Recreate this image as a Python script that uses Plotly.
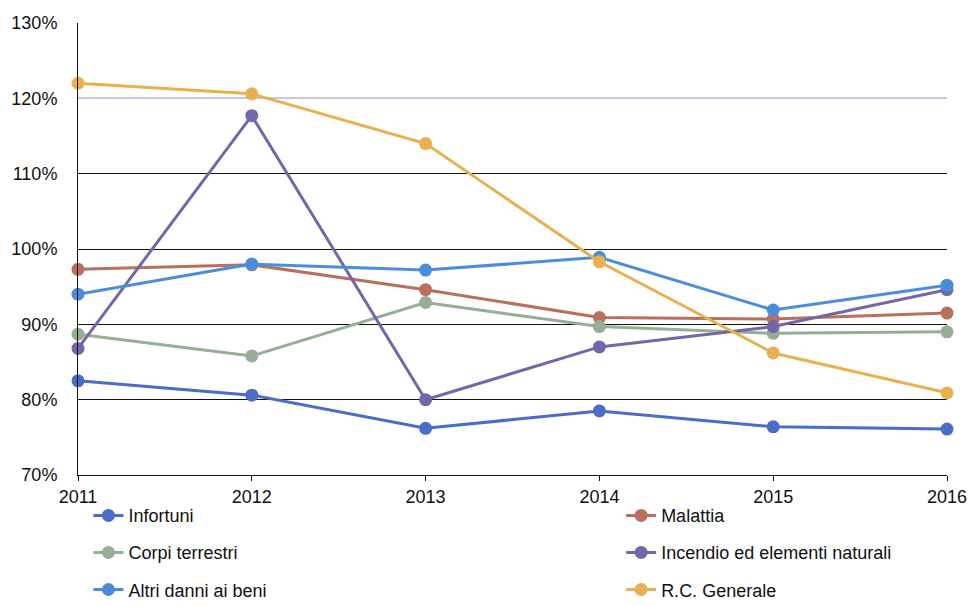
import plotly.graph_objects as go

years = [2011, 2012, 2013, 2014, 2015, 2016]

series_names = [
    "Infortuni",
    "Malattia",
    "Corpi terrestri",
    "Incendio ed elementi naturali",
    "Altri danni ai beni",
    "R.C. Generale",
]

infortuni = [82.5, 80.6, 76.2, 78.5, 76.4, 76.1]
malattia = [97.3, 97.9, 94.6, 90.9, 90.7, 91.5]
corpi_terrestri = [88.7, 85.8, 92.9, 89.7, 88.8, 89.0]
incendio = [86.8, 117.7, 80.0, 87.0, 89.7, 94.6]
altri_danni = [94.0, 98.0, 97.2, 98.9, 91.9, 95.2]
rc_generale = [122.0, 120.6, 114.0, 98.3, 86.2, 80.9]

y_ticks = [70, 80, 90, 100, 110, 120, 130]
y_tick_labels = ["70%", "80%", "90%", "100%", "110%", "120%", "130%"]
dark_grid_ticks = [80, 90, 100, 110, 130]
pale_grid_ticks = [120]

values = [infortuni, malattia, corpi_terrestri, incendio, altri_danni, rc_generale]
colors = ["#4a6dc8", "#b8705d", "#97ad97", "#7466a8", "#4a8edb", "#e9b04f"]

# legend slots: two columns, three rows
legend_x = [0.012, 0.625]
legend_y = [-0.09, -0.172, -0.254]

fig = go.Figure()
for i, (name, vals, col) in enumerate(zip(series_names, values, colors)):
    lg = "legend" if i == 0 else f"legend{i + 1}"
    fig.add_trace(go.Scatter(
        x=years, y=vals, name=name, mode="lines+markers",
        line=dict(color=col, width=3),
        marker=dict(color=col, size=13),
        cliponaxis=False,
        legend=lg,
    ))

legend_layout = {}
for i in range(6):
    key = "legend" if i == 0 else f"legend{i + 1}"
    legend_layout[key] = dict(
        x=legend_x[i % 2], y=legend_y[i // 2],
        xanchor="left", yanchor="middle",
        bgcolor="rgba(0,0,0,0)",
        font=dict(family="Liberation Sans", size=18, color="#111"),
    )

fig.update_layout(
    width=971, height=606,
    margin=dict(l=78, r=24, t=23, b=131, autoexpand=False),
    paper_bgcolor="white", plot_bgcolor="white",
    font=dict(family="Liberation Sans", size=18, color="#111"),
    showlegend=True,
    **legend_layout,
    # overlaid axes carry only gridlines: dark ones and the pale 120% line
    yaxis2=dict(
        overlaying="y", range=[70, 130], tickvals=dark_grid_ticks,
        showticklabels=False, showgrid=True, gridcolor="#111", gridwidth=1,
        zeroline=False, showline=False, fixedrange=True,
    ),
    yaxis3=dict(
        overlaying="y", range=[70, 130], tickvals=pale_grid_ticks,
        showticklabels=False, showgrid=True, gridcolor="#c9c7d9", gridwidth=2,
        zeroline=False, showline=False, fixedrange=True,
    ),
)

fig.update_xaxes(
    range=[2011, 2016], tickvals=years, ticktext=[str(y) for y in years],
    showgrid=False, showline=True, linecolor="#111", linewidth=1,
    ticks="outside", ticklen=5, tickcolor="#111",
    zeroline=False, fixedrange=True,
)
fig.update_layout(yaxis=dict(
    range=[70, 130], tickvals=y_ticks, ticktext=y_tick_labels,
    showgrid=False,
    showline=True, linecolor="#111", linewidth=1,
    ticks="", ticklabelstandoff=16,
    zeroline=False, fixedrange=True,
))

# invisible anchors so the gridline-only axes get drawn
for ax in ["y2", "y3"]:
    fig.add_trace(go.Scatter(
        x=[years[0]], y=[y_ticks[0]], yaxis=ax, mode="markers",
        marker=dict(opacity=0), showlegend=False, hoverinfo="skip",
    ))

fig.write_html("out.html")
